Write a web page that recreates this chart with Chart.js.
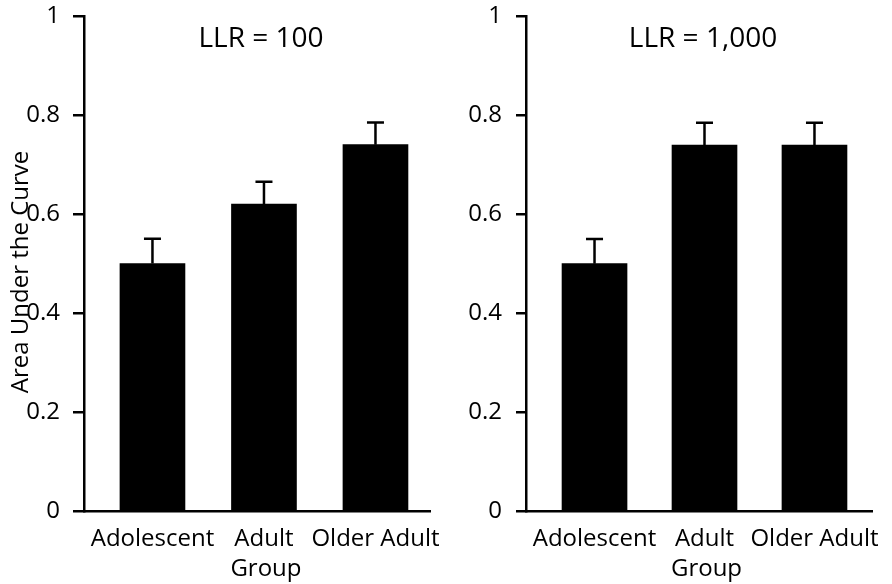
<!DOCTYPE html>
<html>
<head>
<meta charset="utf-8">
<script src="https://cdn.jsdelivr.net/npm/chart.js@4"></script>
<style>
  html, body { margin: 0; padding: 0; background: #fff; }
  #wrap { position: relative; width: 892px; height: 584px; }
  canvas { position: absolute; top: 0; }
</style>
</head>
<body>
<div id="wrap">
  <canvas id="c1" width="446" height="584" style="left:0"></canvas>
  <canvas id="c2" width="446" height="584" style="left:446px"></canvas>
</div>
<script>
const categories = ['Adolescent', 'Adult', 'Older Adult'];
const panelTitles = ['LLR = 100', 'LLR = 1,000'];
const llr100Values = [0.50, 0.62, 0.74];
const llr100Errors = [0.05, 0.045, 0.045];
const llr1000Values = [0.50, 0.74, 0.74];
const llr1000Errors = [0.05, 0.045, 0.045];
const yTicks = [0, 0.2, 0.4, 0.6, 0.8, 1];
const yTickLabels = ['0', '0.2', '0.4', '0.6', '0.8', '1'];
const yAxisTitle = 'Area Under the Curve';
const xAxisTitle = 'Group';

const FONT = "'Open Sans', 'Noto Sans', sans-serif";

const errorBarPlugin = {
  id: 'errorBars',
  afterDatasetsDraw(chart, args, opts) {
    const ctx = chart.ctx;
    const xs = chart.scales.x, ys = chart.scales.y;
    const vals = opts.values, errs = opts.errors;
    ctx.save();
    ctx.strokeStyle = '#000';
    ctx.lineWidth = 2.5;
    ctx.lineCap = 'butt';
    vals.forEach((v, i) => {
      const x = xs.getPixelForValue(i);
      const y0 = ys.getPixelForValue(v);
      const y1 = ys.getPixelForValue(v + errs[i]);
      ctx.beginPath();
      ctx.moveTo(x, y0);
      ctx.lineTo(x, y1);
      ctx.moveTo(x - 8.5, y1);
      ctx.lineTo(x + 8.5, y1);
      ctx.stroke();
    });
    ctx.restore();
  }
};

const textPlugin = {
  id: 'panelText',
  afterDraw(chart, args, opts) {
    const ctx = chart.ctx;
    const ca = chart.chartArea;
    const xs = chart.scales.x;
    ctx.save();
    ctx.fillStyle = '#000';
    ctx.textBaseline = 'alphabetic';
    ctx.textAlign = 'center';
    ctx.font = '28px ' + FONT;
    ctx.fillText(opts.title, (ca.left + ca.right) / 2 + opts.titleDx, ca.top + 31);
    ctx.font = '24px ' + FONT;
    ctx.fillText(xAxisTitle, xs.getPixelForValue(1) + 2, 576);
    if (opts.showY) {
      ctx.translate(28, 272);
      ctx.rotate(-Math.PI / 2);
      ctx.font = '24px ' + FONT;
      ctx.fillText(yAxisTitle, 0, 0);
    }
    ctx.restore();
  }
};

function makeChart(id, values, errors, title, cfg) {
  return new Chart(document.getElementById(id), {
    type: 'bar',
    data: {
      datasets: [{
        data: values.map((v, i) => ({ x: i, y: v })),
        backgroundColor: '#000',
        borderWidth: 0,
        barThickness: 65
      }]
    },
    options: {
      responsive: false,
      animation: false,
      events: [],
      layout: { padding: { top: 16, right: cfg.padRight, bottom: 0, left: 0 } },
      plugins: {
        legend: { display: false },
        tooltip: { enabled: false },
        title: { display: false },
        errorBars: { values, errors },
        panelText: { title, titleDx: cfg.titleDx, showY: cfg.showY }
      },
      scales: {
        x: {
          type: 'linear',
          offset: false,
          min: cfg.xmin,
          max: cfg.xmax,
          afterBuildTicks: (s) => { s.ticks = categories.map((_, i) => ({ value: i })); },
          afterFit: (s) => { s.height = 73; },
          ticks: {
            autoSkip: false,
            maxRotation: 0,
            padding: 0,
            color: '#000',
            font: { family: FONT, size: 24, lineHeight: 2.37 },
            callback: (v) => categories[v]
          },
          grid: { display: false, drawTicks: false, offset: false },
          border: { display: true, color: '#000', width: 2.5 }
        },
        y: {
          min: 0,
          max: 1,
          afterBuildTicks: (s) => { s.ticks = yTicks.map(v => ({ value: v })); },
          afterFit: (s) => { s.width = cfg.yWidth; },
          ticks: {
            padding: cfg.tickPad,
            color: '#000',
            font: { family: FONT, size: 24, lineHeight: 0.2 },
            callback: (v) => yTickLabels[yTicks.indexOf(v)]
          },
          grid: { drawOnChartArea: false, drawTicks: true, tickLength: cfg.tickLen, color: '#000', lineWidth: 2.5 },
          border: { display: true, color: '#000', width: 2.5 }
        }
      }
    },
    plugins: [errorBarPlugin, textPlugin]
  });
}

makeChart('c1', llr100Values, llr100Errors, panelTitles[0],
  { xmin: -0.614, xmax: 2.489, padRight: 16, yWidth: 84, tickPad: 13, tickLen: 11, titleDx: 4, showY: true });
makeChart('c2', llr1000Values, llr1000Errors, panelTitles[1],
  { xmin: -0.623, xmax: 2.523, padRight: 20, yWidth: 80, tickPad: 14, tickLen: 10, titleDx: 4, showY: false });
</script>
</body>
</html>
